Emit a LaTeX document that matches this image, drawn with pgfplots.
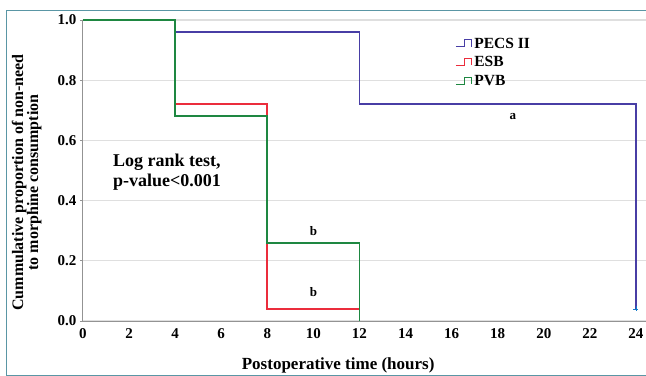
\documentclass[border=0pt]{standalone}
\usepackage{pgfplots}
\pgfplotsset{compat=1.18}
\usepackage{fontspec}
\setmainfont{Liberation Serif}
\definecolor{pecs}{RGB}{72,62,165}
\definecolor{esb}{RGB}{235,45,60}
\definecolor{pvb}{RGB}{30,135,65}
\definecolor{frame}{RGB}{90,150,165}
\begin{document}
\begin{tikzpicture}
\begin{axis}[
  name=ax,
  scale only axis, width=564.5bp, height=301bp,
  xmin=0, xmax=24.5, ymin=0, ymax=1,
  clip=false,
  axis x line=bottom, axis y line=left,
  axis line style={draw=gray!85, line width=1bp, -},
  xtick={0,2,4,6,8,10,12,14,16,18,20,22,24},
  xticklabels={0,2,4,6,8,10,12,14,16,18,20,22,24},
  ytick={0,0.2,0.4,0.6,0.8,1},
  yticklabels={0.0,0.2,0.4,0.6,0.8,1.0},
  xtick style={draw=none},
  ytick style={draw=gray!85, line width=0.8bp},
  tick align=outside, major tick length=3bp,
  ymajorgrids, grid style={gray!25, line width=1.2bp},
  ticklabel style={font=\fontsize{15bp}{17bp}\selectfont\bfseries},
  xticklabel style={yshift=-1bp},
  yticklabel style={xshift=0bp},
  xlabel={Postoperative time (hours)},
  xlabel style={font=\fontsize{17bp}{19bp}\selectfont\bfseries, at={(axis description cs:0.452,-0.146)}, anchor=center},
  ylabel={\begin{tabular}{c}Cummulative proportion of non-need\\[-3bp] to morphine consumption\end{tabular}},
  ylabel style={font=\fontsize{16bp}{18bp}\selectfont\bfseries, at={(axis description cs:-0.099,0.46)}, anchor=center},
  legend style={at={(axis description cs:0.659,0.948)}, anchor=north west, draw=none, fill=none,
    font=\fontsize{15.5bp}{17bp}\selectfont\bfseries, row sep=3bp, inner sep=0pt},
  legend cell align=left,
  legend image code/.code={\draw[#1, line width=1.2bp] (0bp,-3bp) -- (9bp,-3bp) -- (9bp,4bp) -- (16bp,4bp) -- (16bp,-3bp);},
]
\addplot[const plot, pecs, line width=1.8bp] coordinates {(0,1) (4,0.96) (12,0.72) (24,0.04)};
\addlegendentry{PECS II}
\addplot[const plot, esb, line width=1.8bp] coordinates {(0,1) (4,0.72) (8,0.04) (12,0.04)};
\addlegendentry{ESB}
\addplot[const plot, pvb, line width=1.8bp] coordinates {(0,1) (4,0.68) (8,0.26) (12,0.26) (12,0)};
\addlegendentry{PVB}
\addplot[only marks, mark=+, mark size=2.5bp, color=cyan!60!blue, forget plot] coordinates {(24,0.04)};
\node[font=\fontsize{13bp}{15bp}\selectfont\bfseries] at (axis cs:18.66,0.68) {a};
\node[font=\fontsize{13bp}{15bp}\selectfont\bfseries] at (axis cs:10,0.30) {b};
\node[font=\fontsize{13bp}{15bp}\selectfont\bfseries] at (axis cs:10,0.095) {b};
\node[font=\fontsize{18bp}{20bp}\selectfont\bfseries, anchor=west, align=left, inner sep=0pt] at (axis cs:1.3,0.495) {Log rank test,\\p-value<0.001};
\end{axis}
\pgfresetboundingbox
\useasboundingbox ([shift={(-83bp,-55bp)}]ax.south west) rectangle ([shift={(563bp,321bp)}]ax.south west);
\draw[color=frame, line width=1bp] ([shift={(-76bp,-54bp)}]ax.south west) rectangle ([shift={(620bp,310bp)}]ax.south west);
\end{tikzpicture}
\end{document}
